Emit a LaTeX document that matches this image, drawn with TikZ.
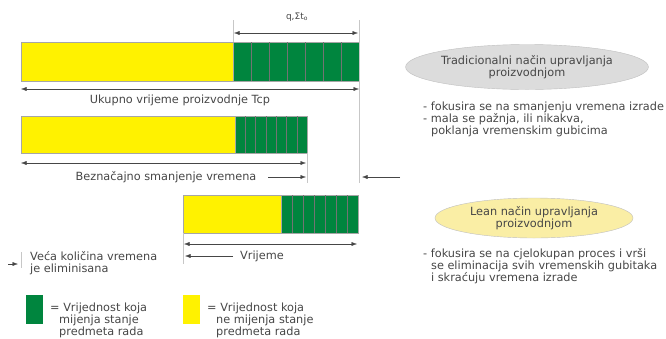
\documentclass[tikz,border=0pt]{standalone}
\usepackage{fontspec}
\setmainfont{DejaVu Sans}
\usetikzlibrary{arrows.meta,positioning,calc,shapes.geometric}
\definecolor{leafgreen}{RGB}{0,133,62}
\definecolor{lemon}{RGB}{255,242,0}
\definecolor{inkgray}{RGB}{70,70,70}
\definecolor{pebble}{RGB}{220,220,220}
\definecolor{cream}{RGB}{250,238,165}

\begin{document}
\begin{tikzpicture}[x=1pt, y=-1pt, >={Latex[length=5.5pt,width=4pt]}, font=\fontsize{11.3}{12}\selectfont, text=inkgray,
  ybar/.style={draw=black!35, fill=lemon, anchor=north west, inner sep=0, outer sep=0},
  gbar/.style={draw=black!35, fill=leafgreen, anchor=north west, inner sep=0, outer sep=0},
  dim/.style={<->, inkgray, thin},
  onearrow/.style={->, inkgray, thin},
  tick/.style={black!22, thin},
  oval/.style={ellipse, draw=black!25, inner sep=0, align=center},
  note/.style={anchor=north west, inner sep=0, align=left}]
\useasboundingbox (0,0) rectangle (666,338);

% Traditional bar
\node[ybar, minimum width=212, minimum height=39] (Y1) at (21,42) {};
\node[gbar, minimum width=126, minimum height=39] (G1) at (233,42) {};
\foreach \i in {1,...,6}
  \draw[black!55] ($(G1.north west)!\i/7!(G1.north east)$) -- ($(G1.south west)!\i/7!(G1.south east)$);

% Reduced bar
\node[ybar, minimum width=214, minimum height=37] (Y2) at (21,116) {};
\node[gbar, minimum width=72, minimum height=37] (G2) at (235,116) {};
\foreach \i in {1,...,6}
  \draw[black!55] ($(G2.north west)!\i/7!(G2.north east)$) -- ($(G2.south west)!\i/7!(G2.south east)$);

% Lean bar
\node[ybar, minimum width=98, minimum height=38] (Y3) at (183,195) {};
\node[gbar, minimum width=77, minimum height=38] (G3) at (281,195) {};
\foreach \i in {1,...,6}
  \draw[black!55] ($(G3.north west)!\i/7!(G3.north east)$) -- ($(G3.south west)!\i/7!(G3.south east)$);

% Ticks
\coordinate (T1a) at (233,20);
\coordinate (T2a) at (359,20);
\coordinate (T2b) at (359,183);
\coordinate (T3b) at (307,183);
\coordinate (T4b) at (183,264);
\coordinate (T5a) at (21,252);
\coordinate (T5b) at (21,268);
\draw[tick] (T1a) -- (G1.north west);
\draw[tick] (T2a) -- (T2b);
\draw[tick] (G2.south east) -- (T3b);
\draw[tick] (Y3.south west) -- (T4b);
\draw[tick] (T5a) -- (T5b);

% Dimensions
\coordinate (Q1) at (234,33);
\coordinate (Q2) at (358,33);
\draw[dim] (Q1) -- (Q2);
\node (qlab) at (297,17) {\fontsize{9}{10}\selectfont q,Σt\textsubscript{o}};
\coordinate (U1) at (21,89);
\coordinate (U2) at (359,89);
\draw[dim] (U1) -- (U2);
\node (ukupno) at (180,100) {Ukupno vrijeme proizvodnje Tcp};
\coordinate (B1) at (21,163);
\coordinate (B2) at (306,163);
\draw[dim] (B1) -- (B2);
\node (bezn) at (166,177) {Beznačajno smanjenje vremena};
\coordinate (B3) at (268,177);
\coordinate (B4) at (306,177);
\draw[onearrow] (B3) -- (B4);
\coordinate (R1) at (400,177);
\coordinate (R2) at (362,177);
\draw[onearrow] (R1) -- (R2);
\coordinate (V1) at (184,244);
\coordinate (V2) at (357,244);
\draw[dim] (V1) -- (V2);
\node (vrij) at (262,256) {Vrijeme};
\coordinate (V3) at (233,256);
\coordinate (V4) at (185,256);
\draw[onearrow] (V3) -- (V4);

% Legend
\coordinate (E1) at (8,264);
\coordinate (E2) at (18,264);
\draw[onearrow] (E1) -- (E2);
\node[note] (elim) at (30,251) {Veća količina vremena\\je eliminisana};
\node[draw=leafgreen, fill=leafgreen, minimum width=16, minimum height=28, inner sep=0, anchor=north west] (kg) at (26,295) {};
\node[note] (kgtxt) at (50,303) {= Vrijednost koja\\\hspace*{0.8em}mijenja stanje\\\hspace*{0.8em}predmeta rada};
\node[draw=lemon, fill=lemon, minimum width=16, minimum height=28, inner sep=0, anchor=north west] (ky) at (183,295) {};
\node[note] (kytxt) at (207,303) {= Vrijednost koja\\\hspace*{0.8em}ne mijenja stanje\\\hspace*{0.8em}predmeta rada};

% Right side
\node[oval, fill=pebble, minimum width=201, minimum height=45] (trad) at (527,67) {Tradicionalni način upravljanja\\proizvodnjom};
\node[note] (tradtxt) at (423,102) {- fokusira se na smanjenju vremena izrade\\- mala se pažnja, ili nikakva,\\\hspace*{0.7em}poklanja vremenskim gubicima};
\node[oval, fill=cream, minimum width=198, minimum height=40] (lean) at (534,218) {Lean način upravljanja\\proizvodnjom};
\node[note] (leantxt) at (423,248) {- fokusira se na cjelokupan proces i vrši\\\hspace*{0.7em}se eliminacija svih vremenskih gubitaka\\\hspace*{0.7em}i skraćuju vremena izrade};
\end{tikzpicture}
\end{document}
